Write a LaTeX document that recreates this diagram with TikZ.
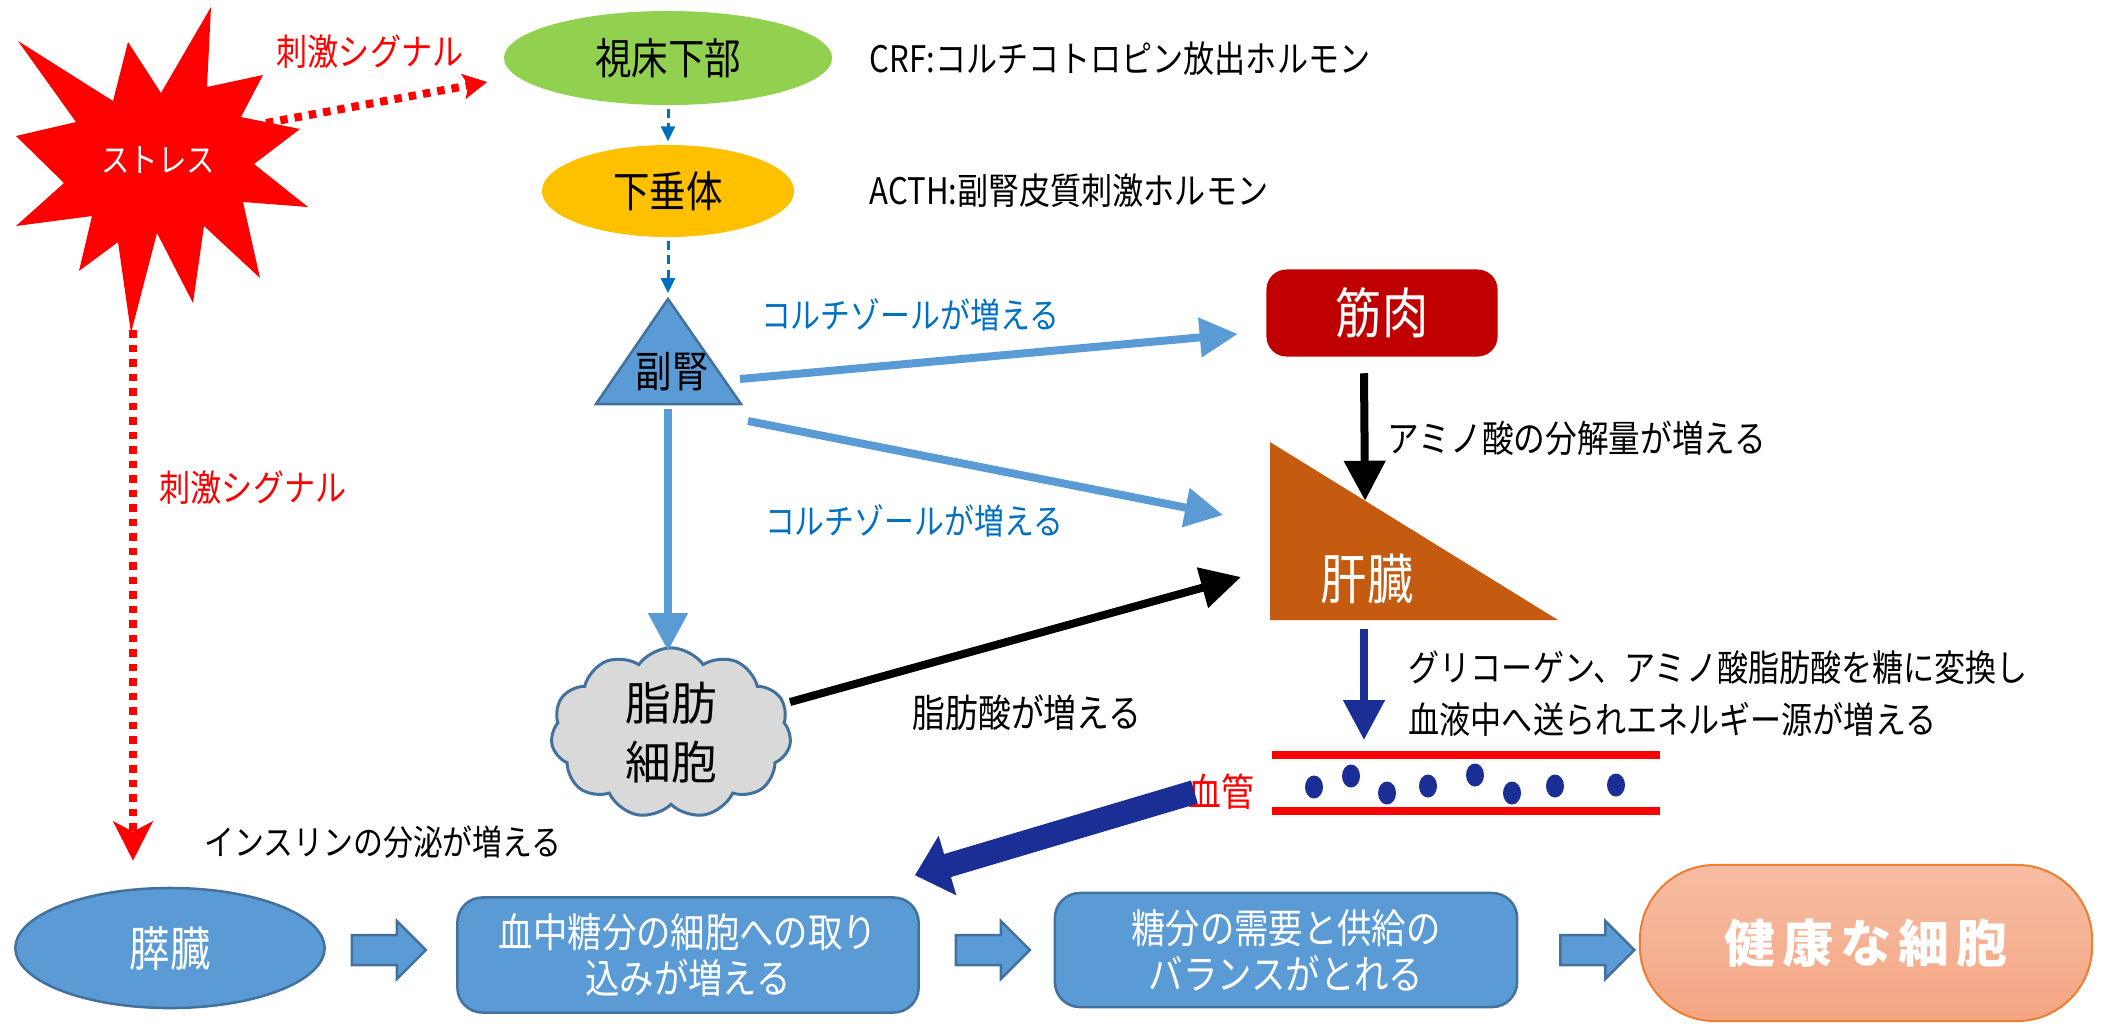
\documentclass[tikz,border=0pt]{standalone}
\usepackage{fontspec}
\setmainfont{Noto Sans CJK JP}[FakeStretch=0.85]
\newfontfamily\jpwide{Noto Sans CJK JP}
\usetikzlibrary{shapes.geometric,shapes.symbols,arrows.meta,calc}
\definecolor{lgreen}{HTML}{92D050}
\definecolor{gold}{HTML}{FFC000}
\definecolor{sblue}{HTML}{5B9BD5}
\definecolor{sedge}{HTML}{41719C}
\definecolor{tblue}{HTML}{0070C0}
\definecolor{dred}{HTML}{C00000}
\definecolor{liverc}{HTML}{C55A11}
\definecolor{navy}{HTML}{1B2E96}
\definecolor{cloudgray}{HTML}{D9D9D9}
\definecolor{peachA}{HTML}{F6BDA3}
\definecolor{peachB}{HTML}{F4A582}
\definecolor{orangeedge}{HTML}{ED7D31}
\tikzset{
 lbl/.style={inner sep=0pt},
 fA/.style={font=\fontsize{10.4pt}{12.5pt}\selectfont},
 fB/.style={font=\fontsize{12.2pt}{14pt}\selectfont},
 fC/.style={font=\fontsize{15.5pt}{18pt}\selectfont},
 redline/.style={draw=red, line width=0.8mm, dash pattern=on 0.75mm off 0.7mm},
 dasharrow/.style={draw=tblue, line width=0.3mm, dash pattern=on 0.9mm off 0.55mm, -{Triangle[length=1.5mm,width=1.4mm]}},
 bluearrow/.style={draw=sblue, line width=0.8mm, -{Triangle[length=3.8mm,width=3.8mm]}},
 blackarrow/.style={draw=black, line width=0.8mm, -{Triangle[length=4mm,width=4mm]}},
 navyarrow/.style={draw=navy, line width=0.8mm, -{Triangle[length=4mm,width=4mm]}},
 bignavy/.style={draw=navy, line width=2.4mm, -{Triangle[length=3.4mm,width=6mm]}},
 bluebox/.style={draw=sedge, fill=sblue, line width=0.25mm, text=white},
 blockarrow/.pic={\draw[bluebox] (-37,-15) -- (8,-15) -- (8,-29) -- (37,0) -- (8,29) -- (8,15) -- (-37,15) -- cycle;}
}
\begin{document}
\begin{tikzpicture}[x=0.01cm,y=-0.01cm]
\useasboundingbox (0,0) rectangle (2103,1023);

% stress star
\fill[red] (211,7) -- (207,87) -- (263,75) -- (241,117) -- (300,129) -- (254,164) -- (308,207) -- (243,202) -- (260,278) -- (204,226) -- (193,303) -- (157,233) -- (131,333) -- (118,242) -- (79,271) -- (92,216) -- (16,226) -- (64,183) -- (16,136) -- (76,122) -- (18,41) -- (113,101) -- (128,42) -- (161,93) -- cycle;
\node[lbl, text=white, font=\fontsize{9.5pt}{11pt}\selectfont] (stress) at (158,160) {ストレス};
\coordinate (starR) at (266,123);
\coordinate (starB) at (133,330);

% top chain
\node[lbl, fA, text=red] (sigtop) at (370,52) {刺激シグナル};
\node[ellipse, fill=lgreen, minimum width=32.8mm, minimum height=9.4mm, inner sep=0, fB] (hyp) at (668,58) {視床下部};
\node[lbl, fA, anchor=west] (crf) at (869,59) {CRF:コルチコトロピン放出ホルモン};
\node[ellipse, fill=gold, minimum width=25.2mm, minimum height=9.2mm, inner sep=0, fB] (pit) at (668,191) {下垂体};
\node[lbl, fA, anchor=west] (acth) at (869,191) {ACTH:副腎皮質刺激ホルモン};

\draw[redline, -{Stealth[length=2.4mm,width=2.5mm,inset=0.5mm]}] (starR) -- ($(hyp.west)+(-16,24)$);

% adrenal
\draw[fill=sblue, draw=sedge, line width=0.25mm] (668,299) coordinate (adrT) -- (741,404) coordinate (adrR) -- (596,404) coordinate (adrL) -- cycle;
\node[lbl, fB] (adr) at (672,372) {副腎};
\coordinate (adrE1) at (740,379);
\coordinate (adrE2) at (748,421);
\coordinate (adrS) at (668,409);

\draw[dasharrow] ($(hyp.south)+(0,3)$) -- ($(pit.north)+(0,-3)$);
\draw[dasharrow] ($(pit.south)+(0,3)$) -- ($(adrT)+(0,-6)$);

% muscle and liver
\node[rectangle, rounded corners=2mm, fill=dred, text=white, minimum width=23.1mm, minimum height=8.7mm, inner sep=0, fC] (muscle) at (1382,313) {筋肉};
\fill[liverc] (1270,442) coordinate (livT) -- (1558,620) coordinate (livR) -- (1270,620) coordinate (livB) -- cycle;
\node[lbl, fC, text=white] (liv) at (1367,579) {肝臓};

\node[lbl, font=\fontsize{10pt}{12pt}\selectfont, text=tblue] (cort1) at (910,315) {コルチゾールが増える};
\node[lbl, font=\fontsize{10pt}{12pt}\selectfont, text=tblue] (cort2) at (914,521) {コルチゾールが増える};
\node[lbl, font=\fontsize{10.6pt}{12.5pt}\selectfont] (amino) at (1577,438) {アミノ酸の分解量が増える};

% fat cell
\node[cloud, cloud puffs=11, cloud puff arc=110, aspect=1.6, draw=sedge, fill=cloudgray, line width=0.3mm, minimum width=24mm, minimum height=14.6mm, inner sep=0, align=center, font=\jpwide\fontsize{13pt}{16.7pt}\selectfont] (fat) at (671,733) {脂肪\\細胞};
\node[lbl, font=\fontsize{11pt}{13pt}\selectfont] (fa) at (1027,713) {脂肪酸が増える};

\draw[bluearrow] (adrE1) -- ($(muscle.west)+(-28,21)$);
\draw[bluearrow] (adrE2) -- ($(livT)+(-47,73)$);
\draw[bluearrow] (adrS) -- ($(fat.center)+(-3,-82)$);
\draw[blackarrow] ($(fat.center)+(119,-31)$) -- ($(livT)+(-29,135)$);
\draw[blackarrow] ($(muscle.south)+(-18,16)$) -- ($(livT)!0.33!(livR)$);

% liver to blood
\node[lbl, anchor=west, align=left, font=\fontsize{10.4pt}{14.8pt}\selectfont] (conv) at (1408,694) {グリコーゲン、アミノ酸脂肪酸を糖に変換し\\血液中へ送られエネルギー源が増える};
\coordinate (vesTL) at (1272,755);
\coordinate (vesBL) at (1272,811);
\draw[navyarrow] ($(livB)+(94,9)$) -- ($(vesTL)+(92,-15)$);
\draw[red, line width=0.8mm] (vesTL) -- ++(388,0);
\draw[red, line width=0.8mm] (vesBL) -- ++(388,0);
\foreach \px/\py in {1314/787, 1351/776, 1387/793, 1428/786, 1475/775, 1512/793, 1555/786, 1616/785}
  \fill[navy] (\px,\py) ellipse [x radius=0.9mm, y radius=1.15mm];
\node[lbl, text=red, font=\fontsize{11pt}{13pt}\selectfont] (vessel) at (1221,792) {血管};

% bottom row
\node[lbl, font=\fontsize{10pt}{12pt}\selectfont] (ins) at (383,842) {インスリンの分泌が増える};
\node[lbl, fA, text=red] (sigleft) at (253,488) {刺激シグナル};
\node[ellipse, bluebox, minimum width=30.9mm, minimum height=12mm, inner sep=0, font=\fontsize{13.5pt}{16pt}\selectfont] (panc) at (170,948) {膵臓};
\node[rectangle, rounded corners=2.5mm, bluebox, minimum width=46.1mm, minimum height=11.5mm, align=center, inner sep=0, font=\fontsize{11.5pt}{13pt}\selectfont] (box1) at (688,955) {血中糖分の細胞への取り\\込みが増える};
\node[rectangle, rounded corners=2.5mm, bluebox, minimum width=46.2mm, minimum height=11.4mm, align=center, inner sep=0, font=\fontsize{11.5pt}{13pt}\selectfont] (box2) at (1286,950) {糖分の需要と供給の\\バランスがとれる};
\node[rectangle, rounded corners=7.5mm, minimum width=45.2mm, minimum height=15.6mm, top color=peachA, bottom color=peachB, draw=orangeedge, line width=0.2mm, text=white, inner sep=0, font=\jpwide\bfseries\fontsize{14.5pt}{17pt}\selectfont] (healthy) at (1866,943) {健\hspace{2pt}康\hspace{2pt}な\hspace{2pt}細\hspace{2pt}胞};

\pic at ($(panc.east)+(63,2)$) {blockarrow};
\pic at ($(box1.east)+(73,-5)$) {blockarrow};
\pic at ($(box2.east)+(79,0)$) {blockarrow};

\draw[redline, -{Stealth[length=3.9mm,width=3.9mm,inset=1mm]}] (starB) -- ($(panc.north)+(-37,-26)$);
\draw[bignavy] ($(vessel.west)+(7,0)$) -- ($(box1.north east)+(-5,-21)$);
\end{tikzpicture}
\end{document}
